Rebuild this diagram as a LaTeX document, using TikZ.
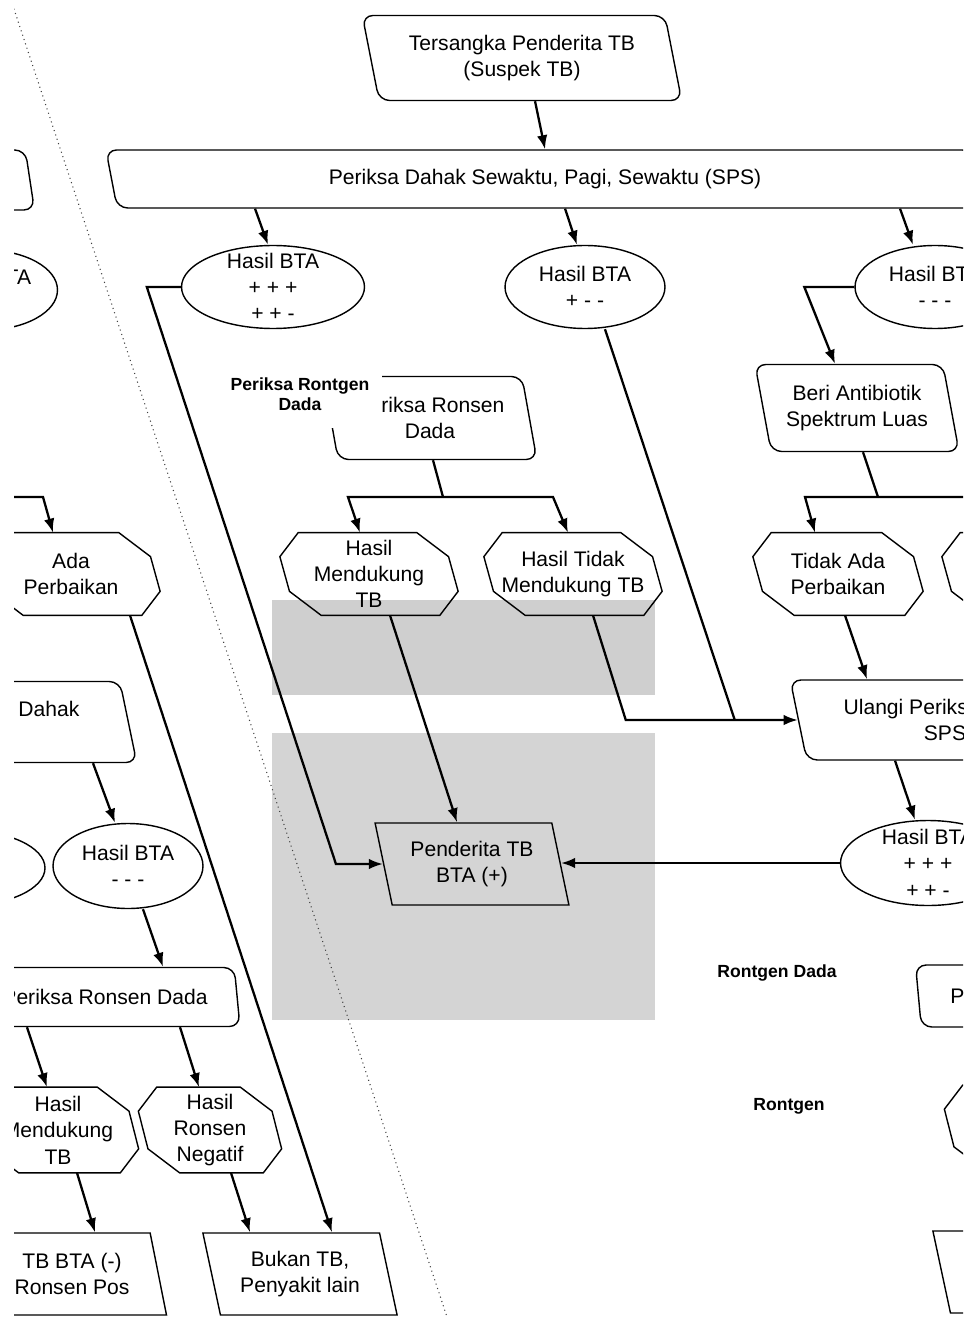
\documentclass[tikz,border=0pt]{standalone}
\usepackage{fontspec}
\setmainfont{Liberation Sans}
\usetikzlibrary{shapes.geometric, arrows.meta, calc}

\tikzset{
  rbox/.style={trapezium, trapezium left angle=106, trapezium right angle=74,
    trapezium stretches=true, draw, line width=0.8pt, rounded corners=6pt,
    align=center, inner sep=0pt},
  pbox/.style={rbox, sharp corners},
  hbox/.style={rectangle, align=center, inner sep=0pt, minimum width=3.36cm, minimum height=1.64cm},
  hline/.style={line width=0.8pt},
  bta/.style={ellipse, draw, line width=0.8pt, align=center, inner xsep=0pt, inner ysep=-4pt},
  note/.style={font=\fontsize{10}{11.5}\selectfont\bfseries, align=center},
  link/.style={line width=1.3pt},
  arr/.style={link, -{Latex[length=8pt,width=6pt]}},
}

\begin{document}
\begin{tikzpicture}[x=0.02cm, y=-0.02cm, every node/.style={font=\fontsize{12}{15}\selectfont}]
  % Hintergrund
  \useasboundingbox (0,0) rectangle (963,1317);
  \fill[black!19] (272,600) rectangle (655,695);
  \fill[black!17] (272,733) rectangle (655,1020);
  \clip (14,0) rectangle (963,1317);
  \draw[black!75, line width=0.6pt, dotted] (11,0) -- (447,1317);

  % Kotak dan elips
  \node[rbox, minimum width=6.4cm, minimum height=1.7cm] (suspek) at (522,58) {Tersangka Penderita TB\\(Suspek TB)};
  \node[rbox, minimum width=17.6cm, minimum height=1.16cm] (sps) at (545,179) {Periksa Dahak Sewaktu, Pagi, Sewaktu (SPS)};
  \node[rbox, minimum width=6cm, minimum height=1.2cm] (spskiri) at (-115,180) {\phantom{Periksa Dahak}};

  \node[bta, minimum width=3.66cm, minimum height=1.66cm] (btaA) at (273,287) {Hasil BTA\\+ + +\\+ + -};
  \node[bta, minimum width=3.2cm, minimum height=1.66cm] (btaB) at (585,287) {Hasil BTA\\+ - -};
  \node[bta, minimum width=3.2cm, minimum height=1.66cm] (btaC) at (935,287) {Hasil BTA\\- - -};
  \node[bta, minimum width=2.9cm, minimum height=1.6cm] (btaL) at (-15,290) {Hasil BTA\\+ - -};

  \node[rbox, minimum width=4.3cm, minimum height=1.66cm] (ronsen) at (430,418) {Periksa Ronsen\\Dada};
  \node[rbox, minimum width=4.1cm, minimum height=1.74cm] (beri) at (857,408) {Beri Antibiotik\\Spektrum Luas};

  \node[hbox] (mendukung) at (369,574) {Hasil\\Mendukung\\TB};
  \node[hbox] (tidakmend) at (573,574) {Hasil Tidak\\Mendukung TB};
  \node[hbox, minimum width=3.2cm] (tidakbaik) at (838,574) {Tidak Ada\\Perbaikan};
  \node[hbox] (baikkanan) at (1031,574) {};
  \node[hbox] (baikkiri) at (71,574) {Ada\\Perbaikan};

  \node[rbox, minimum width=6.2cm, minimum height=1.6cm] (ulangi) at (945,720) {Ulangi Periksa Dahak\\SPS};
  \node[rbox, minimum width=6.36cm, minimum height=1.62cm] (ulangikiri) at (-22,722) {Ulangi Periksa Dahak\\SPS};

  \node[pbox, minimum width=3.9cm, minimum height=1.64cm] (positif) at (472,864) {Penderita TB\\BTA (+)};
  \node[bta, minimum width=3.5cm, minimum height=1.7cm] (btaD) at (928,863) {Hasil BTA\\+ + +\\+ + -};
  \node[bta, minimum width=3.0cm, minimum height=1.7cm] (btaE) at (128,866) {Hasil BTA\\- - -};
  \node[bta, minimum width=3.2cm, minimum height=1.5cm] (btaF) at (-35,868) {};

  \node[rbox, minimum width=5.4cm, minimum height=1.18cm] (ronsenkiri) at (105,997) {Periksa Ronsen Dada};
  \node[rbox, minimum width=5.5cm, minimum height=1.24cm] (ronsenkanan) at (1053,996) {Periksa Ronsen Dada};

  \node[hbox, minimum width=3.02cm, minimum height=1.7cm] (mendkiri) at (58,1130) {Hasil\\Mendukung\\TB};
  \node[hbox, minimum width=2.66cm, minimum height=1.7cm] (negatif) at (210,1130) {Hasil\\Ronsen\\Negatif};
  \node[hbox, minimum width=3.3cm, minimum height=1.7cm] (mendkanan) at (1032,1128) {};

  \node[pbox, minimum width=3.8cm, minimum height=1.64cm] (tbneg) at (72,1274) {TB BTA (-)\\Ronsen Pos};
  \node[pbox, minimum width=3.9cm, minimum height=1.64cm] (bukan) at (300,1274) {Bukan TB,\\Penyakit lain};
  \node[pbox, minimum width=3.9cm, minimum height=1.64cm] (tbkanan) at (1030,1272) {\phantom{Bukan TB,}\\\phantom{Penyakit lain}};

  % Segi delapan
  \foreach \n in {mendukung, tidakmend, tidakbaik, baikkanan, baikkiri, mendkiri, negatif, mendkanan}
    \draw[hline] ($(\n.north west)+(13.5,0)$) -- ($(\n.north east)+(-36.5,0)$)
      -- ($(\n.north east)+(-4.8,24)$) -- ($(\n.south east)+(4.8,-24)$)
      -- ($(\n.south east)+(-13.5,0)$) -- ($(\n.south west)+(36.5,0)$)
      -- ($(\n.south west)+(4.8,-24)$) -- ($(\n.north west)+(-4.8,24)$) -- cycle;

  % Catatan
  \node[note, fill=white, minimum width=3.3cm, minimum height=1.36cm] (catatan1) at (300,394) {Periksa Rontgen\\Dada};
  \node[note] (catatan2) at (777,973) {Rontgen Dada};
  \node[note] (catatan3) at (789,1106) {Rontgen};

  % Cabang
  \coordinate (cabangA) at (443,497);
  \coordinate (cabangB) at (878,497);
  \coordinate (cabangC) at (-60,497);

  % Panah tengah
  \draw[arr] ($(suspek.south)+(13,0)$) -- (sps.north);
  \draw[arr] ($(sps.south)+(-290,0)$) -- ($(btaA.north)+(-5,0)$);
  \draw[arr] ($(sps.south)+(20,0)$) -- ($(btaB.north)+(-8,0)$);
  \draw[arr] ($(sps.south)+(355,0)$) -- ($(btaC.north)+(-22,0)$);
  \draw[arr] (btaC.west) -- ++(-50,0) -- ($(beri.north)+(-22,0)$);
  \draw[arr] (btaA.west) -- ++(-34,0) -- ($(positif.west)+(-47,0)$) -- (positif.west);

  \draw[link] ($(ronsen.south)+(3,0)$) -- (cabangA);
  \draw[arr] (cabangA) -- ++(-95,0) -- ($(mendukung.north)+(-9,0)$);
  \draw[arr] (cabangA) -- ++(110,0) -- ($(tidakmend.north)+(-5,0)$);
  \draw[arr] ($(mendukung.south)+(21,0)$) -- ($(positif.north)+(-15,0)$);
  \draw[arr] ($(tidakmend.south)+(20,0)$) -- ($(ulangi.west)+(-172,0)$) -- (ulangi.west);
  \draw[link] ($(btaB.south)+(20,0)$) -- ($(ulangi.west)+(-63,0)$);

  % Panah kanan
  \draw[link] ($(beri.south)+(6,0)$) -- (cabangB);
  \draw[arr] (cabangB) -- ++(-73,0) -- ($(tidakbaik.north)+(-23,0)$);
  \draw[arr] (cabangB) -- ++(132,0) -- ($(baikkanan.north)+(-10,0)$);
  \draw[arr] ($(tidakbaik.south)+(7,0)$) -- ($(ulangi.north)+(-78,0)$);
  \draw[arr] ($(ulangi.south)+(-50,0)$) -- ($(btaD.north)+(-13,0)$);
  \draw[arr] (btaD.west) -- (btaD.west -| positif.east);

  % Panah kiri
  \draw[arr] (cabangC) -- ++(103,0) -- ($(baikkiri.north)+(-18,0)$);
  \draw[arr] ($(baikkiri.south)+(59,0)$) -- ($(bukan.north)+(32,0)$);
  \draw[arr] ($(ulangikiri.south)+(115,0)$) -- ($(btaE.north)+(-13,0)$);
  \draw[arr] ($(btaE.south)+(15,0)$) -- ($(ronsenkiri.north)+(58,0)$);
  \draw[arr] ($(ronsenkiri.south)+(-78,0)$) -- ($(mendkiri.north)+(-11,0)$);
  \draw[arr] ($(ronsenkiri.south)+(75,0)$) -- ($(negatif.north)+(-11,0)$);
  \draw[arr] ($(mendkiri.south)+(19,0)$) -- ($(tbneg.north)+(23,0)$);
  \draw[arr] ($(negatif.south)+(21,0)$) -- ($(bukan.north)+(-50,0)$);
\end{tikzpicture}
\end{document}
